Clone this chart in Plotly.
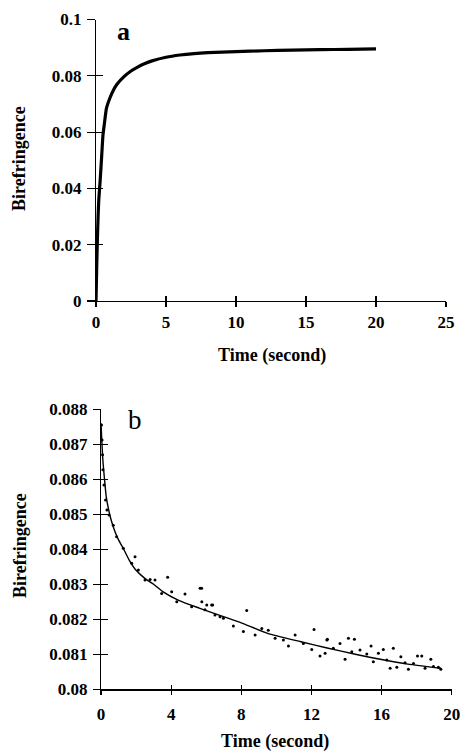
import plotly.graph_objects as go

# ---------------- data ----------------
# Panel a: birefringence rise
time_a = [0, 0.05, 0.1, 0.15, 0.2, 0.3, 0.4, 0.5, 0.6, 0.75, 1.0, 1.25, 1.5, 2.0, 2.5,
          3.0, 3.5, 4, 5, 6, 7, 8, 10, 12, 14, 16, 18, 20]
biref_a = [0, 0.012, 0.022, 0.03, 0.036, 0.043, 0.051, 0.059, 0.063, 0.0685, 0.0722,
           0.0750, 0.0770, 0.0797, 0.0817, 0.0832, 0.0844, 0.0853, 0.0866, 0.0874,
           0.0879, 0.0882, 0.0886, 0.0889, 0.0891, 0.0893, 0.0894, 0.0896]

# Panel b: fitted relaxation curve
time_b_fit = [0, 0.1, 0.2, 0.3, 0.45, 0.6, 0.8, 1.0, 1.3, 1.6, 2.0, 2.5, 3.0, 3.5, 4.4,
              5.6, 6.9, 8, 9.5, 11.4, 12.9, 14.5, 16, 17.5, 19.4]
biref_b_fit = [0.0876, 0.0866, 0.0860, 0.0855, 0.0851, 0.0848, 0.0845, 0.08427, 0.0840,
               0.0837, 0.0834, 0.08317, 0.0830, 0.0828, 0.08255, 0.08232, 0.08209,
               0.0819, 0.0816, 0.08136, 0.08118, 0.0810, 0.08085, 0.08072, 0.0806]

# Panel b: measured points
time_b_pts = [0.03, 0.06, 0.09, 0.11, 0.17, 0.26, 0.34, 0.46, 0.70, 0.89, 1.27, 1.75,
              1.94, 2.13, 2.51, 2.80, 3.08, 3.46, 3.80, 4.03, 4.32, 4.79, 5.17, 5.65,
              5.74, 5.75, 5.93, 6.03, 6.31, 6.37, 6.50, 6.79, 6.98, 7.55, 8.12, 8.31,
              8.79, 9.17, 9.54, 9.93, 10.4, 10.69, 11.07, 11.54, 12.02, 12.15, 12.49,
              12.78, 12.88, 12.91, 13.25, 13.63, 13.92, 14.11, 14.30, 14.45, 14.77,
              15.16, 15.40, 15.53, 15.82, 16.10, 16.30, 16.49, 16.67, 16.87, 17.10,
              17.34, 17.53, 17.82, 18.05, 18.29, 18.48, 18.81, 18.96, 19.24, 19.38]
biref_b_pts = [0.08755, 0.08712, 0.0867, 0.08627, 0.08584, 0.08541, 0.08512, 0.08498,
               0.08469, 0.08436, 0.08403, 0.0836, 0.08379, 0.08341, 0.08312, 0.08314,
               0.08312, 0.08274, 0.0832, 0.08279, 0.0825, 0.08272, 0.08236, 0.08289,
               0.08289, 0.0825, 0.08227, 0.08241, 0.08241, 0.08241, 0.08212, 0.08207,
               0.08203, 0.08181, 0.08165, 0.08225, 0.08155, 0.08174, 0.08169, 0.08146,
               0.08141, 0.08124, 0.08155, 0.08131, 0.08114, 0.08171, 0.08095, 0.08103,
               0.08141, 0.08143, 0.08117, 0.08131, 0.08086, 0.08146, 0.08107, 0.08143,
               0.08112, 0.08101, 0.08124, 0.08079, 0.08103, 0.08114, 0.08084, 0.0806,
               0.08117, 0.08063, 0.08093, 0.08076, 0.08057, 0.08074, 0.08095, 0.08095,
               0.0806, 0.08086, 0.08065, 0.08063, 0.08057]

xticks_a = [0, 5, 10, 15, 20, 25]
yticks_a = [0, 0.02, 0.04, 0.06, 0.08, 0.1]
yticklabels_a = ["0", "0.02", "0.04", "0.06", "0.08", "0.1"]
xticks_b = [0, 4, 8, 12, 16, 20]
yticks_b = [0.080, 0.081, 0.082, 0.083, 0.084, 0.085, 0.086, 0.087, 0.088]
yticklabels_b = ["0.08", "0.081", "0.082", "0.083", "0.084", "0.085", "0.086", "0.087", "0.088"]

# ---------------- figure ----------------
W, H = 464, 751


def px(x):
    return x / W


def py(y):
    return 1 - y / H


FONT = "Liberation Serif"
tickfont = dict(family=FONT, size=17, color="black", weight="bold")

fig = go.Figure()
fig.add_trace(go.Scatter(x=time_a, y=biref_a, mode="lines",
                         line=dict(color="black", width=3.2, shape="spline", smoothing=0.6),
                         xaxis="x", yaxis="y", showlegend=False))
fig.add_trace(go.Scatter(x=time_b_pts, y=biref_b_pts, mode="markers",
                         marker=dict(color="black", size=3),
                         xaxis="x2", yaxis="y2", showlegend=False))
fig.add_trace(go.Scatter(x=time_b_fit, y=biref_b_fit, mode="lines",
                         line=dict(color="black", width=1.4, shape="spline", smoothing=0.6),
                         xaxis="x2", yaxis="y2", showlegend=False))
# invisible traces to activate the overlay (inside-tick) axes
fig.add_trace(go.Scatter(x=[None], y=[None], xaxis="x3", yaxis="y3", showlegend=False))
fig.add_trace(go.Scatter(x=[None], y=[None], xaxis="x4", yaxis="y4", showlegend=False))

dom_xa = [px(96), px(446)]
dom_ya = [py(301), py(19.5)]
dom_xb = [px(101), px(451.7)]
dom_yb = [py(689.3), py(409.3)]

common = dict(showgrid=False, zeroline=False, automargin=False, ticks="outside",
              tickcolor="black", tickwidth=1.2, tickfont=tickfont, fixedrange=True)
inner = dict(ticks="inside", tickcolor="black", tickwidth=1.2, showticklabels=False,
             showline=False, showgrid=False, zeroline=False, automargin=False)

fig.update_layout(
    width=W, height=H,
    margin=dict(l=0, r=0, t=0, b=0),
    paper_bgcolor="white", plot_bgcolor="rgba(0,0,0,0)",
    template="none",
    showlegend=False,
    hovermode=False,
    xaxis=dict(domain=dom_xa, range=[0, 25], anchor="y", tickvals=xticks_a,
               showline=True, linecolor="black", linewidth=1.2, ticklen=5,
               ticklabelstandoff=0, **common),
    yaxis=dict(domain=dom_ya, range=[0, 0.1], anchor="x", tickvals=yticks_a,
               ticktext=yticklabels_a, showline=True, linecolor="black", linewidth=1.2,
               ticklen=8, ticklabelstandoff=2, **common),
    xaxis2=dict(domain=dom_xb, range=[0, 20], anchor="y2", tickvals=xticks_b,
                showline=True, linecolor="black", linewidth=1.2, ticklen=4,
                ticklabelstandoff=5, **common),
    yaxis2=dict(domain=dom_yb, range=[0.08, 0.088], anchor="x2", tickvals=yticks_b,
                ticktext=yticklabels_b, showline=True, linecolor="black", linewidth=1.2,
                ticklen=7, ticklabelstandoff=2, **common),
    # overlay axes giving the inner half of the cross-shaped ticks
    xaxis3=dict(overlaying="x", anchor="y", range=[0, 25], tickvals=xticks_a, ticklen=5, **inner),
    yaxis3=dict(overlaying="y", anchor="x", range=[0, 0.1], tickvals=yticks_a, ticklen=7, **inner),
    xaxis4=dict(overlaying="x2", anchor="y2", range=[0, 20], tickvals=xticks_b, ticklen=4, **inner),
    yaxis4=dict(overlaying="y2", anchor="x2", range=[0.08, 0.088], tickvals=yticks_b, ticklen=7, **inner),
)

title_font = dict(family=FONT, size=18, color="black", weight="bold")
annots = [
    dict(text="a", x=px(123), y=py(32), font=dict(family=FONT, size=26, color="black", weight="bold")),
    dict(text="b", x=px(135), y=py(420), font=dict(family=FONT, size=27, color="black")),
    dict(text="Time (second)", x=px(272), y=py(355), font=title_font),
    dict(text="Time (second)", x=px(275), y=py(741), font=title_font),
    dict(text="Birefringence", x=px(19), y=py(159), textangle=-90, font=title_font),
    dict(text="Birefringence", x=px(20), y=py(546), textangle=-90, font=title_font),
]
for a in annots:
    fig.add_annotation(xref="paper", yref="paper", showarrow=False,
                       xanchor="center", yanchor="middle", **a)

# remove the page's default 8 px body margin so the figure fills the window
fig.write_html("out.html",
               config={"displayModeBar": False, "staticPlot": True},
               post_script="document.body.style.margin='0';document.body.style.overflow='hidden';")
